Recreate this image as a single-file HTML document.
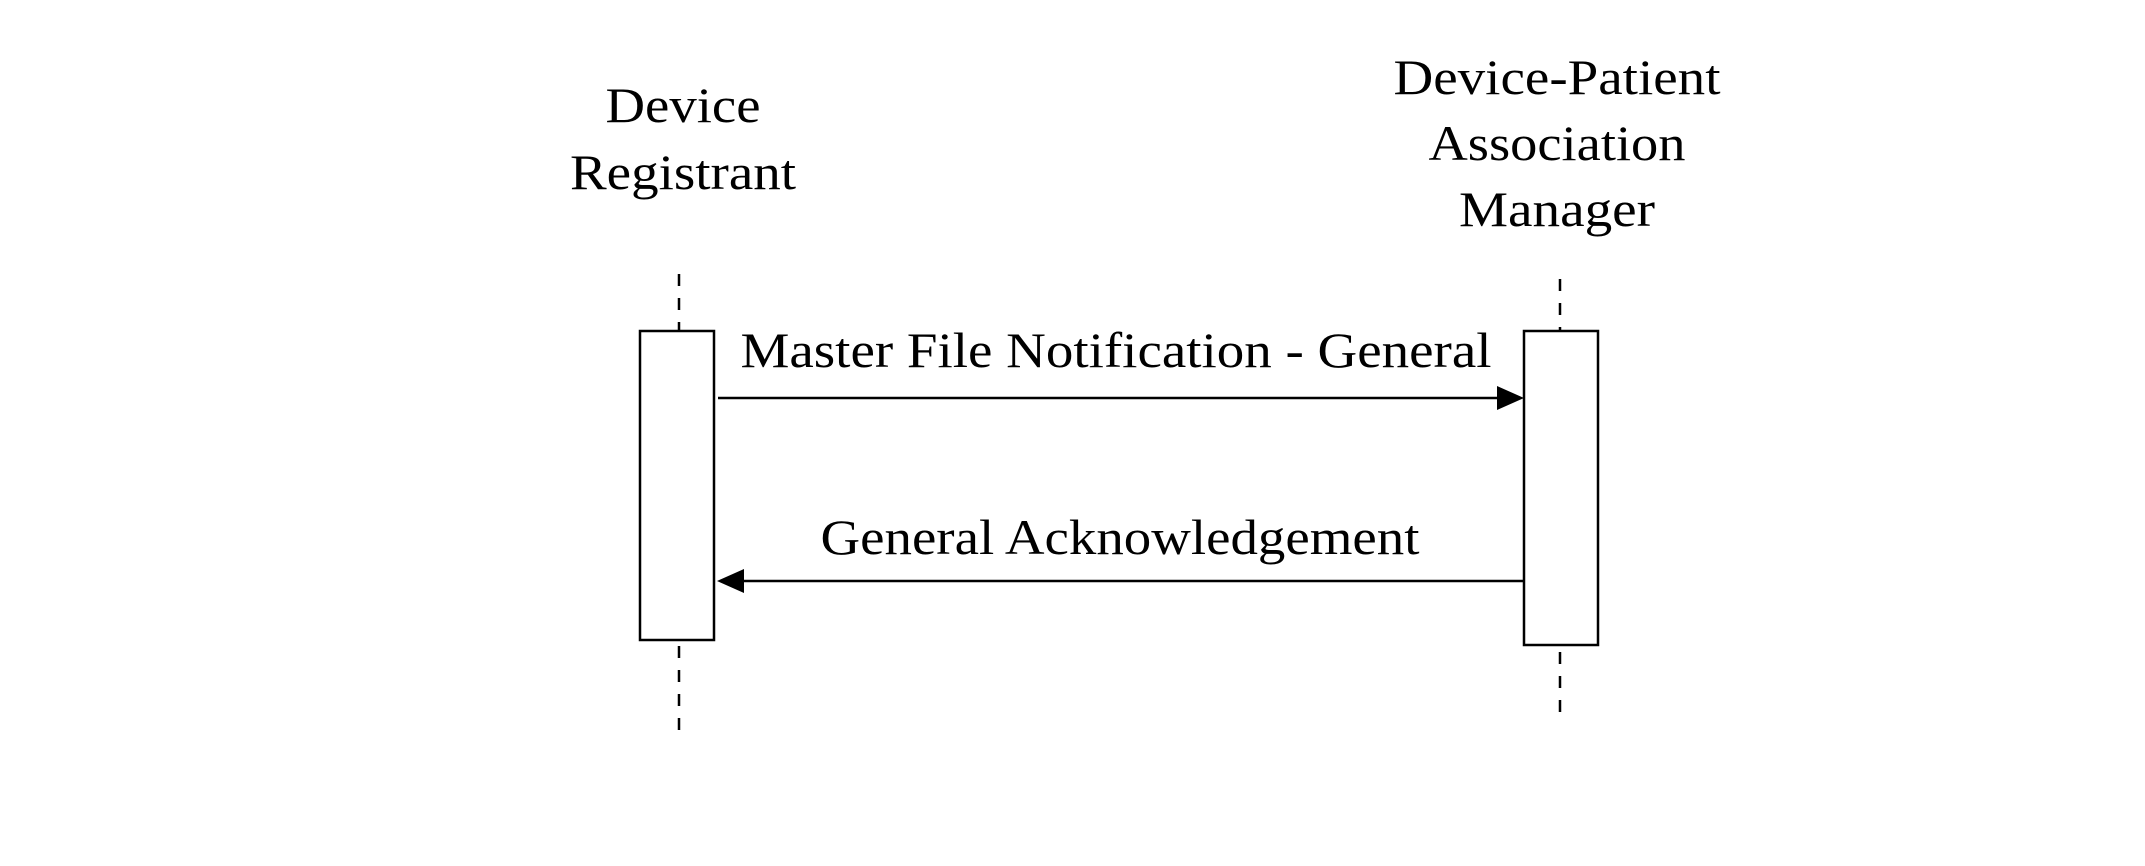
<!DOCTYPE html>
<html><head><style>html,body{margin:0;padding:0;background:#fff;}</style></head>
<body>
<svg width="2145" height="866" xmlns="http://www.w3.org/2000/svg" style="display:block">
<rect width="2145" height="866" fill="#fff"/>
<g font-family="Liberation Serif, serif" font-size="50" fill="#000" text-anchor="middle" lengthAdjust="spacingAndGlyphs">
<text x="683" y="122" textLength="155" lengthAdjust="spacingAndGlyphs">Device</text>
<text x="683" y="189" textLength="226" lengthAdjust="spacingAndGlyphs">Registrant</text>
<text x="1557" y="94" textLength="327" lengthAdjust="spacingAndGlyphs">Device-Patient</text>
<text x="1557" y="160" textLength="257" lengthAdjust="spacingAndGlyphs">Association</text>
<text x="1557" y="226" textLength="196" lengthAdjust="spacingAndGlyphs">Manager</text>
<text x="1116" y="367" textLength="751" lengthAdjust="spacingAndGlyphs">Master File Notification - General</text>
<text x="1120" y="554" textLength="599" lengthAdjust="spacingAndGlyphs">General Acknowledgement</text>
</g>
<g stroke="#000" stroke-width="2.5" stroke-dasharray="12,12" fill="none">
<line x1="679" y1="274" x2="679" y2="331"/>
<line x1="679" y1="646" x2="679" y2="740"/>
<line x1="1560" y1="279" x2="1560" y2="331"/>
<line x1="1560" y1="652" x2="1560" y2="712"/>
</g>
<rect x="640" y="331" width="74" height="309" fill="#fff" stroke="#000" stroke-width="2.5"/>
<rect x="1524" y="331" width="74" height="314" fill="#fff" stroke="#000" stroke-width="2.5"/>
<line x1="718" y1="398" x2="1500" y2="398" stroke="#000" stroke-width="2.5"/>
<polygon points="1524,398 1497,386 1497,410" fill="#000"/>
<line x1="1524" y1="581" x2="740" y2="581" stroke="#000" stroke-width="2.5"/>
<polygon points="717,581 744,569 744,593" fill="#000"/>
</svg>
</body></html>
